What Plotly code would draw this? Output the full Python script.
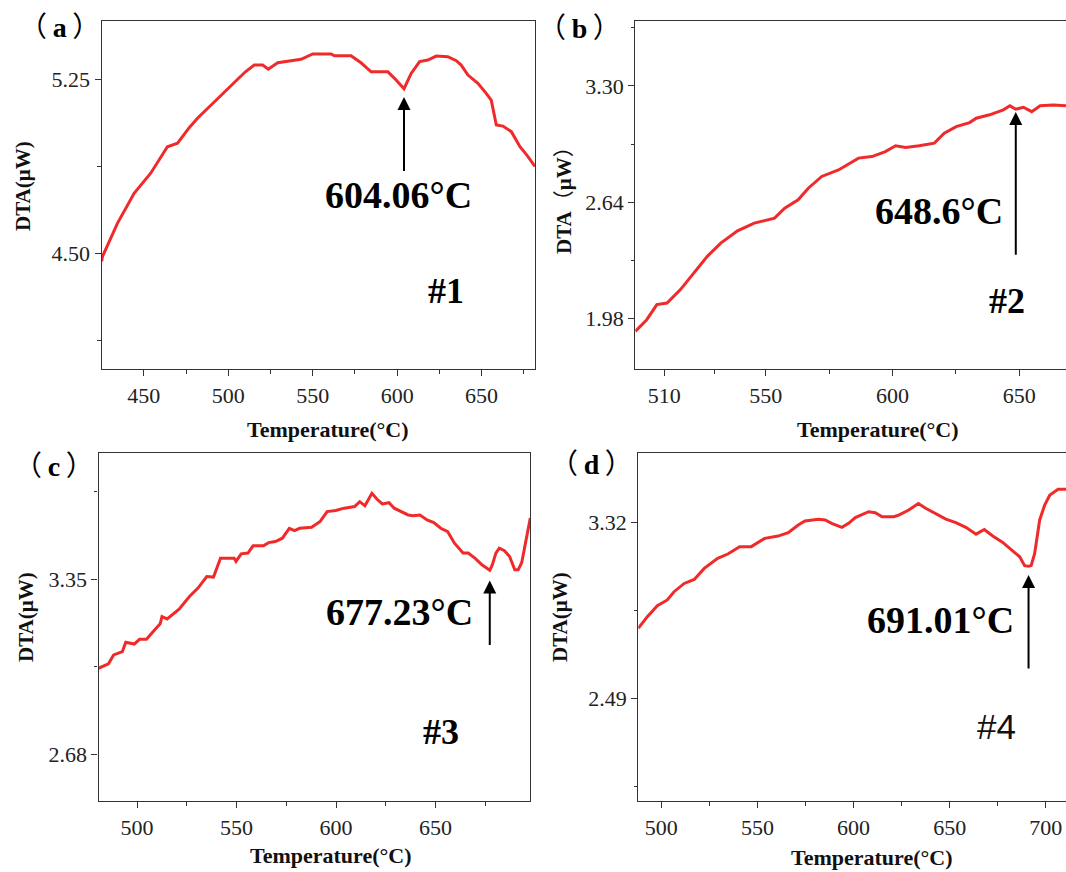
import plotly.graph_objects as go

# ---- DTA curves (temperature in degC, signal in uW) ----
temp_1 = [425.1, 425.5, 434.4, 444.3, 454.1, 464.0, 470.0, 476.9, 481.8, 491.7, 503.6, 510.0,
          515.4, 520.4, 523.7, 529.3, 538.2, 543.1, 550.0, 560.9, 562.9, 572.7, 578.6, 584.6,
          594.5, 599.4, 604.06, 608.3, 613.3, 618.2, 623.1, 630.0, 635.0, 637.9, 641.9, 647.8,
          652.7, 655.7, 658.7, 662.6, 667.6, 672.7, 677.0, 681.6]
dta_1 = [4.464, 4.484, 4.628, 4.757, 4.844, 4.958, 4.973, 5.040, 5.081, 5.152, 5.238, 5.280,
         5.310, 5.310, 5.292, 5.320, 5.330, 5.335, 5.358, 5.358, 5.350, 5.350, 5.320, 5.281,
         5.281, 5.246, 5.208, 5.274, 5.325, 5.332, 5.349, 5.346, 5.329, 5.310, 5.267, 5.231,
         5.188, 5.159, 5.052, 5.047, 5.023, 4.958, 4.920, 4.873]

temp_2 = [498.6, 503.1, 507.1, 511.1, 516.4, 521.7, 527.0, 532.3, 538.9, 545.5, 553.5, 557.5,
          562.8, 566.8, 572.1, 578.7, 586.6, 591.9, 597.2, 601.2, 605.2, 610.5, 616.5, 620.4,
          625.1, 630.4, 633.0, 638.3, 643.7, 646.3, 648.6, 651.6, 654.9, 658.2, 663.5, 668.4]
dta_2 = [1.906, 1.972, 2.058, 2.067, 2.143, 2.237, 2.332, 2.407, 2.477, 2.521, 2.549, 2.606,
         2.653, 2.719, 2.786, 2.823, 2.890, 2.899, 2.927, 2.960, 2.950, 2.960, 2.975, 3.031,
         3.069, 3.092, 3.117, 3.136, 3.164, 3.187, 3.168, 3.179, 3.154, 3.187, 3.192, 3.187]

temp_3 = [480.6, 485.6, 488.2, 492.6, 494.3, 498.6, 501.2, 504.7, 508.1, 511.6, 512.5, 515.1,
          521.1, 526.3, 530.6, 535.0, 538.4, 541.9, 548.8, 549.7, 552.3, 555.7, 558.3, 563.5,
          566.1, 569.5, 573.0, 576.5, 579.1, 581.7, 587.7, 592.0, 595.5, 599.8, 604.1, 609.3,
          611.9, 614.5, 618.0, 620.6, 623.2, 626.6, 629.2, 632.7, 636.2, 638.7, 642.2, 645.7,
          649.1, 652.6, 656.1, 659.5, 663.8, 666.4, 669.9, 673.3, 677.23, 678.5, 680.3, 682.0,
          684.6, 687.2, 689.8, 691.5, 693.3, 695.8, 697.6]
dta_3 = [3.009, 3.026, 3.060, 3.073, 3.109, 3.102, 3.120, 3.120, 3.150, 3.179, 3.207, 3.198,
         3.235, 3.284, 3.316, 3.360, 3.358, 3.430, 3.430, 3.418, 3.447, 3.450, 3.478, 3.478,
         3.490, 3.494, 3.507, 3.545, 3.536, 3.545, 3.549, 3.571, 3.609, 3.613, 3.622, 3.628,
         3.647, 3.631, 3.679, 3.656, 3.638, 3.643, 3.622, 3.609, 3.596, 3.593, 3.596, 3.577,
         3.567, 3.545, 3.532, 3.488, 3.450, 3.450, 3.430, 3.405, 3.384, 3.405, 3.450, 3.469,
         3.459, 3.437, 3.386, 3.386, 3.414, 3.513, 3.584]

temp_4 = [488.0, 492.7, 497.9, 503.1, 506.6, 511.9, 517.1, 522.3, 529.3, 534.6, 540.7, 546.8,
          553.8, 560.7, 566.0, 571.2, 574.7, 581.7, 585.2, 588.6, 593.9, 597.4, 600.9, 604.3,
          607.8, 611.3, 614.8, 620.9, 623.5, 628.7, 633.7, 637.5, 642.7, 648.0, 653.2, 658.4,
          663.7, 668.0, 672.4, 677.6, 682.9, 686.4, 689.0, 691.01, 692.4, 694.2, 696.8, 699.4,
          702.1, 706.4, 710.5]
dta_4 = [2.821, 2.876, 2.928, 2.955, 2.994, 3.033, 3.052, 3.104, 3.152, 3.172, 3.207, 3.207,
         3.246, 3.257, 3.273, 3.309, 3.328, 3.336, 3.333, 3.317, 3.298, 3.317, 3.344, 3.356,
         3.372, 3.367, 3.348, 3.348, 3.356, 3.380, 3.411, 3.388, 3.364, 3.337, 3.320, 3.298,
         3.266, 3.288, 3.257, 3.227, 3.186, 3.159, 3.117, 3.114, 3.118, 3.175, 3.333, 3.403,
         3.451, 3.478, 3.478]

# marked transition temperatures
peak_temps = [604.06, 648.6, 677.23, 691.01]
peak_text = ["604.06°C", "648.6°C", "677.23°C", "691.01°C"]
sample_names = ["#1", "#2", "#3", "#4"]
panel_letters = ["a", "b", "c", "d"]
x_title = "Temperature(°C)"

# tick values per panel
x_major = [[450, 500, 550, 600, 650], [510, 550, 600, 650],
           [500, 550, 600, 650], [500, 550, 600, 650, 700]]
x_minor = [[475, 525, 575, 625, 675], [530, 575, 625],
           [525, 575, 625, 675], [525, 575, 625, 675]]
y_major = [[4.50, 5.25], [1.98, 2.64, 3.30], [2.68, 3.35], [2.49, 3.32]]
y_minor = [[4.125, 4.875], [2.31, 2.97, 3.63], [3.015, 3.685], [2.075, 2.905]]

x_ranges = [[425.1, 681.6], [498.6, 668.4], [480.6, 697.6], [488.0, 710.5]]
y_ranges = [[4.0, 5.5], [1.692, 3.669], [2.501, 3.832], [2.005, 3.648]]

temps = [temp_1, temp_2, temp_3, temp_4]
dtas = [dta_1, dta_2, dta_3, dta_4]

W, H = 1066, 872


def px_x(p):
    return p / W


def px_y(p):
    return 1 - p / H


# plot-area frames in pixels: (left, top, right, bottom)
frames = [(101.7, 21, 535.0, 369), (635.3, 21, 1066, 369),
          (98.5, 453.3, 530.3, 801), (638.3, 453.3, 1066, 801)]
right_open = [False, True, False, True]

# arrow geometry: (tip y, tail y) in data units, plus label/sample positions
arrow_y = [(5.172, 4.847), (3.152, 2.332), (3.345, 3.092), (3.073, 2.624)]
label_pos = [(601.0, 4.75), (618.5, 2.587), (631.8, 3.226), (645.4, 2.860)]
name_pos = [(629.0, 4.335), (645.0, 2.077), (652.6, 2.767), (674.1, 2.356)]
name_fonts = ["Liberation Serif", "Liberation Serif", "Liberation Serif", "Liberation Sans"]
name_bold = [True, True, True, False]

# positions (pixels) of the panel tags and axis titles
tag_px = [(59, 25), (579, 26), (54, 464), (591, 462)]
ytitle_px = [(23, 186), (562, 195), (26, 617), (560, 617)]
xtitle_px = [(328, 429), (878, 429), (331, 855), (872, 857)]

SERIF = "Liberation Serif, Times New Roman, serif"
CJK = "Noto Sans CJK SC"
AXIS_COLOR = "#333333"
LINE_RED = "#f02a2a"


def wide(ch):
    # full-width bracket drawn with a CJK face
    return "<span style=\"font-family:'%s'\">%s</span>" % (CJK, ch)


panel_tags = [wide("（") + "\u2009<b>%s</b>\u2009" % c + wide("）") for c in panel_letters]
y_titles = ["<b>DTA(μW)</b>",
            "<b>DTA</b>" + wide("（") + "<b>μW</b>" + wide("）"),
            "<b>DTA(μW)</b>", "<b>DTA(μW)</b>"]

fig = go.Figure()
annotations = []

for i in range(4):
    n = "" if i == 0 else str(i + 1)
    xa, ya = "x" + n, "y" + n
    fig.add_trace(go.Scatter(
        x=temps[i], y=dtas[i], mode="lines",
        line=dict(color=LINE_RED, width=3),
        xaxis=xa, yaxis=ya, showlegend=False, hoverinfo="skip"))

    l, t, r, b = frames[i]
    fig.layout["xaxis" + n] = dict(
        domain=[px_x(l), min(px_x(r), 1.0)], anchor=ya, range=x_ranges[i],
        showline=True, linecolor=AXIS_COLOR, linewidth=1.4, mirror=True,
        ticks="outside", ticklen=6, tickwidth=1.3, tickcolor=AXIS_COLOR,
        tickmode="array", tickvals=x_major[i], ticktext=[str(v) for v in x_major[i]],
        minor=dict(tickmode="array", tickvals=x_minor[i], ticks="outside",
                   ticklen=3.5, tickwidth=1.3, tickcolor=AXIS_COLOR),
        tickfont=dict(family=SERIF, size=22, color="#222222"),
        showgrid=False, zeroline=False, fixedrange=True)
    fig.layout["yaxis" + n] = dict(
        domain=[px_y(b), px_y(t)], anchor=xa, range=y_ranges[i],
        showline=True, linecolor=AXIS_COLOR, linewidth=1.4,
        mirror=not right_open[i],
        ticks="outside", ticklen=6, tickwidth=1.3, tickcolor=AXIS_COLOR,
        tickmode="array", tickvals=y_major[i],
        ticktext=["%.2f" % v for v in y_major[i]],
        minor=dict(tickmode="array", tickvals=y_minor[i], ticks="outside",
                   ticklen=3.5, tickwidth=1.3, tickcolor=AXIS_COLOR),
        tickfont=dict(family=SERIF, size=22, color="#222222"),
        showgrid=False, zeroline=False, fixedrange=True)

    # arrow pointing at the transition temperature
    tip_y, tail_y = arrow_y[i]
    annotations.append(dict(
        x=peak_temps[i], y=tip_y, ax=peak_temps[i], ay=tail_y,
        xref=xa, yref=ya, axref=xa, ayref=ya, text="",
        showarrow=True, arrowhead=2, arrowsize=1.3, arrowwidth=2,
        arrowcolor="#000000", standoff=0, startstandoff=0))

    # temperature label
    annotations.append(dict(
        x=label_pos[i][0], y=label_pos[i][1], xref=xa, yref=ya,
        text="<b>%s</b>" % peak_text[i], showarrow=False,
        xanchor="center", yanchor="middle",
        font=dict(family=SERIF, size=38, color="#000000")))

    # sample name
    nm = sample_names[i]
    annotations.append(dict(
        x=name_pos[i][0], y=name_pos[i][1], xref=xa, yref=ya,
        text=("<b>%s</b>" % nm) if name_bold[i] else nm, showarrow=False,
        xanchor="center", yanchor="middle",
        font=dict(family=name_fonts[i], size=36 if name_bold[i] else 35,
                  color="#000000" if name_bold[i] else "#111111")))

    # panel tag
    annotations.append(dict(
        x=px_x(tag_px[i][0]), y=px_y(tag_px[i][1]), xref="paper", yref="paper",
        text=panel_tags[i], showarrow=False,
        xanchor="center", yanchor="middle",
        font=dict(family=SERIF, size=28, color="#000000")))

    # axis titles
    annotations.append(dict(
        x=px_x(ytitle_px[i][0]), y=px_y(ytitle_px[i][1]), xref="paper", yref="paper",
        text=y_titles[i], showarrow=False, textangle=-90,
        xanchor="center", yanchor="middle",
        font=dict(family=SERIF, size=21, color="#111111")))
    annotations.append(dict(
        x=px_x(xtitle_px[i][0]), y=px_y(xtitle_px[i][1]), xref="paper", yref="paper",
        text="<b>%s</b>" % x_title, showarrow=False,
        xanchor="center", yanchor="middle",
        font=dict(family=SERIF, size=22, color="#111111")))

fig.update_layout(
    width=W, height=H,
    margin=dict(l=0, r=0, t=0, b=0),
    paper_bgcolor="white", plot_bgcolor="white",
    annotations=annotations,
    showlegend=False,
)

fig.write_html("out.html", config={"displayModeBar": False})
